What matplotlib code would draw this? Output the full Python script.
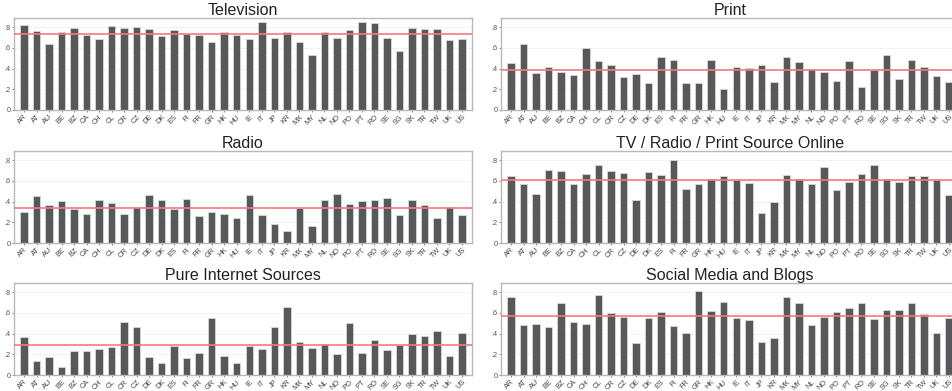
import matplotlib
matplotlib.use("Agg")
import matplotlib.pyplot as plt
import numpy as np

plt.rcParams['font.family'] = ['Liberation Sans', 'DejaVu Sans']

countries = ["AR", "AT", "AU", "BE", "BZ", "CA", "CH", "CL", "CR", "CZ", "DE", "DK",
             "ES", "FI", "FR", "GR", "HK", "HU", "IE", "IT", "JP", "KR", "MX", "MY",
             "NL", "NO", "PO", "PT", "RO", "SE", "SG", "SK", "TR", "TW", "UK", "US"]

television = [0.82, 0.76, 0.64, 0.75, 0.79, 0.73, 0.69, 0.81, 0.79, 0.80, 0.78, 0.72,
              0.77, 0.74, 0.73, 0.66, 0.75, 0.73, 0.69, 0.85, 0.70, 0.75, 0.66, 0.53,
              0.75, 0.70, 0.77, 0.85, 0.84, 0.70, 0.57, 0.79, 0.78, 0.78, 0.68, 0.69]
print_media = [0.45, 0.64, 0.36, 0.42, 0.37, 0.34, 0.60, 0.47, 0.44, 0.32, 0.35, 0.26,
               0.51, 0.48, 0.26, 0.26, 0.48, 0.20, 0.42, 0.41, 0.44, 0.27, 0.51, 0.46,
               0.40, 0.37, 0.28, 0.47, 0.22, 0.39, 0.53, 0.30, 0.48, 0.42, 0.33, 0.27]
radio = [0.30, 0.45, 0.37, 0.41, 0.33, 0.28, 0.42, 0.39, 0.28, 0.35, 0.46, 0.42,
         0.33, 0.43, 0.26, 0.30, 0.28, 0.24, 0.46, 0.27, 0.18, 0.12, 0.34, 0.16,
         0.42, 0.47, 0.38, 0.41, 0.42, 0.44, 0.27, 0.42, 0.37, 0.24, 0.35, 0.27]
legacy_online = [0.65, 0.57, 0.47, 0.71, 0.70, 0.57, 0.67, 0.75, 0.70, 0.68, 0.42, 0.69,
                 0.66, 0.80, 0.52, 0.57, 0.62, 0.65, 0.61, 0.58, 0.29, 0.40, 0.66, 0.62,
                 0.57, 0.74, 0.51, 0.59, 0.67, 0.75, 0.62, 0.59, 0.65, 0.65, 0.61, 0.46]
pure_internet = [0.37, 0.14, 0.17, 0.08, 0.23, 0.23, 0.25, 0.27, 0.51, 0.46, 0.17, 0.12,
                 0.28, 0.16, 0.21, 0.55, 0.18, 0.12, 0.28, 0.25, 0.46, 0.66, 0.32, 0.26,
                 0.30, 0.20, 0.50, 0.21, 0.34, 0.24, 0.29, 0.40, 0.38, 0.43, 0.18, 0.41]
social_media = [0.75, 0.48, 0.49, 0.46, 0.70, 0.51, 0.49, 0.77, 0.60, 0.56, 0.31, 0.55,
                0.61, 0.47, 0.41, 0.81, 0.62, 0.71, 0.55, 0.53, 0.32, 0.36, 0.75, 0.70,
                0.48, 0.56, 0.61, 0.65, 0.70, 0.54, 0.63, 0.63, 0.70, 0.59, 0.41, 0.55]

titles = ["Television", "Print", "Radio", "TV / Radio / Print Source Online",
          "Pure Internet Sources", "Social Media and Blogs"]
series = [television, print_media, radio, legacy_online, pure_internet, social_media]
averages = [0.735, 0.39, 0.34, 0.61, 0.29, 0.57]

W, H = 953, 391
fig = plt.figure(figsize=(W / 100, H / 100), dpi=100)

col_left = [14, 501]
ax_width = 458
row_top = [18, 151, 283]
ax_height = 92

x = np.arange(len(countries))
for i, (title, vals, avg) in enumerate(zip(titles, series, averages)):
    r, c = divmod(i, 2)
    left = col_left[c] / W
    bottom = 1 - (row_top[r] + ax_height) / H
    ax = fig.add_axes([left, bottom, ax_width / W, ax_height / H])
    ax.bar(x, vals, width=0.6, color="#58585a", edgecolor="#d8d8d8",
           linewidth=0.6, zorder=2)
    ax.axhline(avg, color="#f07a80", lw=1.2, zorder=3)
    ax.set_xlim(-0.8, len(countries) - 0.2)
    ax.set_ylim(0, 0.89)
    ax.set_yticks([0, 0.2, 0.4, 0.6, 0.8])
    ax.set_yticklabels(["0", ".2", ".4", ".6", ".8"])
    ax.yaxis.grid(True, color="#f0f0f0", lw=0.6, zorder=0)
    ax.set_axisbelow(True)
    ax.set_xticks(x)
    ax.set_xticklabels(countries, rotation=45, ha="right", rotation_mode="anchor")
    ax.tick_params(axis="both", labelsize=5.3, colors="#555555", length=1.5,
                   width=0.5, pad=1)
    ax.tick_params(axis="x", labelcolor="#444444")
    for sp in ax.spines.values():
        sp.set_color("#b8b8b8")
        sp.set_linewidth(1.0)
    ax.set_title(title, fontsize=11.5, color="#222222", pad=2)

fig.savefig("out.png", dpi=100, facecolor="white")
